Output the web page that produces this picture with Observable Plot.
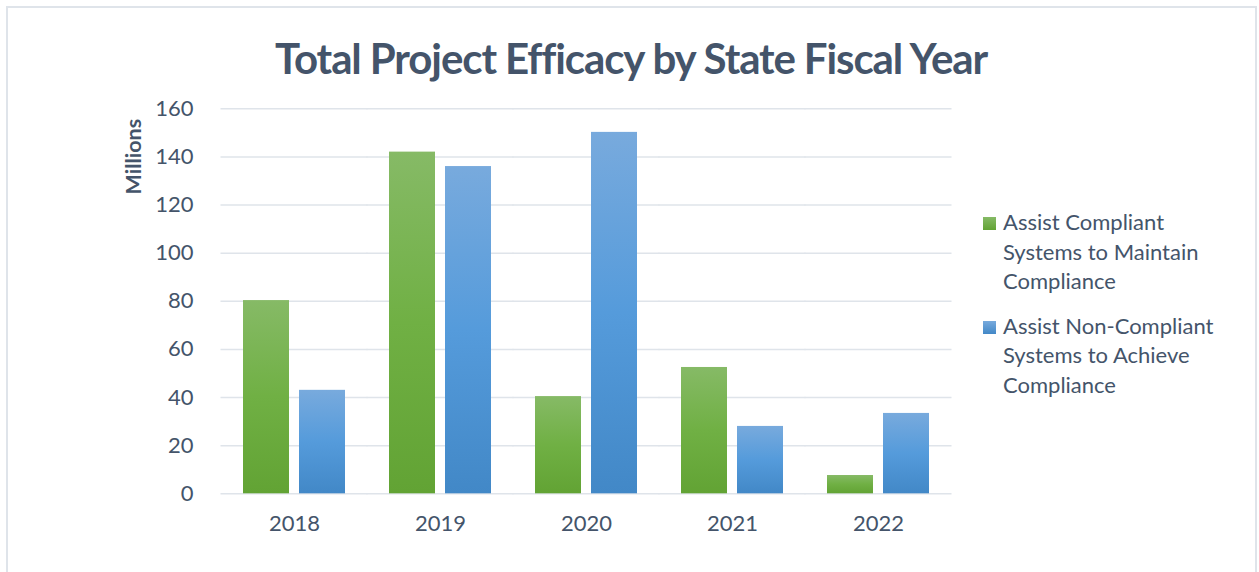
<!DOCTYPE html>
<html>
<head>
<meta charset="utf-8">
<script src="https://cdn.jsdelivr.net/npm/d3@7"></script>
<script src="https://cdn.jsdelivr.net/npm/@observablehq/plot@0.6"></script>
<style>
  html, body { margin: 0; padding: 0; background: #ffffff; }
  #wrap { position: relative; width: 1259px; height: 572px; overflow: hidden; font-family: Lato, "Open Sans", sans-serif; }
  #frame { position: absolute; left: 6px; top: 6px; width: 1251px; height: 640px; border: 2px solid #dfe4ea; box-sizing: border-box; }
  #title { position: absolute; left: 0; top: 32px; width: 1262px; text-align: center; font-size: 42px; letter-spacing: -1.1px; line-height: 53px; font-weight: bold; color: #44546a; white-space: nowrap; }
  #chart { position: absolute; left: 0; top: 90px; }
  #legend { position: absolute; left: 983px; top: 207px; width: 250px; color: #44546a; font-size: 22px; line-height: 29.5px; }
  .item { display: flex; align-items: flex-start; margin-bottom: 15px; }
  .sw { width: 13px; height: 13px; margin-top: 10px; margin-right: 7px; flex: none; }
  .lab { width: 228px; }
</style>
</head>
<body>
<div id="wrap">
  <div id="frame"></div>
  <div id="title"></div>
  <div id="chart"></div>
  <div id="legend"></div>
</div>
<script>
const chartTitle = "Total Project Efficacy by State Fiscal Year";
const yAxisTitle = "Millions";
const years = ["2018", "2019", "2020", "2021", "2022"];
const seriesNames = [
  "Assist Compliant Systems to Maintain Compliance",
  "Assist Non-Compliant Systems to Achieve Compliance"
];
const compliantValues = [80.3, 142, 40.4, 52.5, 7.6];
const nonCompliantValues = [43, 136, 150.2, 28, 33.4];
const yTicks = [0, 20, 40, 60, 80, 100, 120, 140, 160];
const seriesGradients = [
  ["#86ba66", "#70b044", "#62a334"],
  ["#78aadd", "#559bdb", "#4288c7"]
];
const swatchGradients = [
  ["#86ba66", "#62a334"],
  ["#78aadd", "#4288c7"]
];

const data = [];
years.forEach((yr, i) => {
  data.push({year: yr, series: seriesNames[0], value: compliantValues[i]});
  data.push({year: yr, series: seriesNames[1], value: nonCompliantValues[i]});
});

const gradIds = ["gradGreen", "gradBlue"];
const ink = "#44546a";

const plot = Plot.plot({
  width: 970,
  height: 482,
  marginTop: 18.3,
  marginBottom: 78.7,
  marginLeft: 220,
  marginRight: 17,
  style: {fontFamily: "Lato, 'Open Sans', sans-serif", fontSize: "22px", color: ink, background: "transparent", overflow: "visible"},
  fx: {domain: years, paddingInner: 0.3, paddingOuter: 0.15, label: null, axis: null},
  x: {domain: seriesNames, paddingInner: 0.18, paddingOuter: 0, axis: null},
  y: {domain: [0, 160], axis: null},
  color: {domain: seriesNames, range: gradIds.map(id => `url(#${id})`)},
  marks: [
    // grid lines: each facet's rule reaches half the gap on both sides, so they join up
    Plot.ruleY(yTicks, {y: d => d, stroke: "#dfe4ea", strokeWidth: 1.6, insetLeft: -22.5, insetRight: -22.5}),
    Plot.barY(data, {fx: "year", x: "series", y: "value", fill: "series"}),
    Plot.axisFx({anchor: "bottom", tickSize: 0, tickPadding: 22, label: null, fontSize: 22, fill: ink}),
    Plot.text(yTicks, {fx: () => years[0], y: d => d, text: d => String(d), frameAnchor: "left", textAnchor: "end", dx: -50, fontSize: 22, fill: ink}),
    Plot.text([yAxisTitle], {fx: () => years[0], text: d => d, frameAnchor: "top-left", lineAnchor: "middle", rotate: -90, textAnchor: "end", dx: -109, dy: 10, fontSize: 21.5, fontWeight: "bold", fill: ink})
  ]
});

// gradient definitions for the bars
const ns = "http://www.w3.org/2000/svg";
const defs = document.createElementNS(ns, "defs");
gradIds.forEach((id, k) => {
  const g = document.createElementNS(ns, "linearGradient");
  g.setAttribute("id", id);
  g.setAttribute("x1", "0"); g.setAttribute("y1", "0");
  g.setAttribute("x2", "0"); g.setAttribute("y2", "1");
  seriesGradients[k].forEach((c, j, arr) => {
    const s = document.createElementNS(ns, "stop");
    s.setAttribute("offset", (j / (arr.length - 1) * 100) + "%");
    s.setAttribute("stop-color", c);
    g.appendChild(s);
  });
  defs.appendChild(g);
});
plot.insertBefore(defs, plot.firstChild);
document.getElementById("chart").appendChild(plot);

document.getElementById("title").textContent = chartTitle;

const legend = document.getElementById("legend");
seriesNames.forEach((name, k) => {
  const item = document.createElement("div");
  item.className = "item";
  const sw = document.createElement("div");
  sw.className = "sw";
  sw.style.background = `linear-gradient(${swatchGradients[k][0]}, ${swatchGradients[k][1]})`;
  const lab = document.createElement("div");
  lab.className = "lab";
  lab.textContent = name;
  item.appendChild(sw);
  item.appendChild(lab);
  legend.appendChild(item);
});
</script>
</body>
</html>
